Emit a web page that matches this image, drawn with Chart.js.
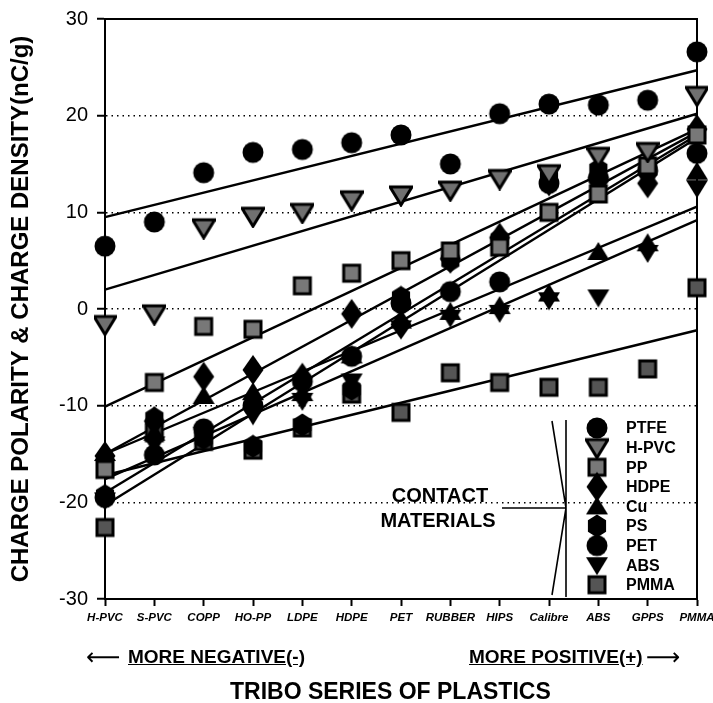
<!DOCTYPE html>
<html>
<head>
<meta charset="utf-8">
<script src="https://cdn.jsdelivr.net/npm/chart.js@4.4.1/dist/chart.umd.min.js"></script>
<style>
html, body { margin: 0; padding: 0; background: #fff; }
#wrap { position: relative; width: 713px; height: 703px; overflow: hidden; }
#tribo { position: absolute; left: 0; top: 0; }
.note { position: absolute; font: bold 19px "Liberation Sans", Arial, sans-serif; white-space: nowrap; color: #000; line-height: 20px; }
.arrow { position: absolute; font: 24px "DejaVu Sans", sans-serif; line-height: 20px; white-space: nowrap; }
</style>
</head>
<body>
<div id="wrap">
  <canvas id="tribo" width="713" height="703"></canvas>
  <div class="arrow" style="left:86px;top:647px">&#10229;</div>
  <div class="note" style="left:128px;top:647px"><u>MORE NEGATIVE(-)</u></div>
  <div class="note" style="left:469px;top:647px"><u>MORE POSITIVE(+)</u></div>
  <div class="arrow" style="left:646px;top:647px">&#10230;</div>
  <div class="note" style="left:230px;top:679px;font-size:23px;line-height:24px">TRIBO SERIES OF PLASTICS</div>
</div>
<script>
// plastics along the x axis, from negative to positive
var plastics = ['H-PVC', 'S-PVC', 'COPP', 'HO-PP', 'LDPE', 'HDPE', 'PET', 'RUBBER', 'HIPS', 'Calibre', 'ABS', 'GPPS', 'PMMA']
var contacts = ['PTFE', 'H-PVC', 'PP', 'HDPE', 'Cu', 'PS', 'PET', 'ABS', 'PMMA']

// charge density (nC/g) of each plastic against the contact material
var ptfe  = [6.5, 9.0, 14.1, 16.2, 16.5, 17.2, 18.0, 15.0, 20.2, 21.2, 21.1, 21.6, 26.6]
var hpvc  = [-1.6, -0.5, 8.4, 9.6, 10.0, 11.3, 11.8, 12.3, 13.5, 14.0, 15.8, 16.3, 22.1]
var pp    = [-16.6, -7.6, -1.8, -2.1, 2.4, 3.7, 5.0, 6.0, 6.4, 10.0, 11.9, 14.8, 18.0]
var hdpe  = [-15.2, -11.6, -7.0, -6.3, -7.1, -0.5, -1.6, 5.2, 7.4, 13.2, 13.6, 13.0, 18.6]
var cu    = [-14.9, -12.8, -9.0, -8.6, -8.7, -4.8, -1.2, -0.3, 0.3, 1.6, 5.9, 6.8, 14.2]
var ps    = [-19.3, -11.3, -13.4, -14.2, -12.0, -8.3, 1.2, 5.0, 7.2, 13.6, 14.4, 14.4, 18.2]
var pet   = [-19.5, -15.1, -12.4, -10.0, -7.5, -4.9, 0.6, 1.8, 2.8, 13.0, 13.5, 14.3, 16.1]
var abs   = [-19.8, -14.0, -13.0, -11.0, -9.5, -7.5, -2.0, -0.9, -0.4, 0.9, 1.2, 5.8, 12.5]
var pmma  = [-22.6, -12.8, -13.7, -14.6, -12.3, -8.8, -10.7, -6.6, -7.6, -8.1, -8.1, -6.2, 2.2]

// fitted lines, value read at H-PVC and at PMMA
var fitStart = [9.5, 2.0, -10.1, -15.0, -15.0, -19.0, -20.3, -17.6, -17.2]
var fitEnd   = [24.7, 20.2, 18.6, 18.3, 10.6, 18.0, 17.7, 9.2, -2.2]

var allSeries = [ptfe, hpvc, pp, hdpe, cu, ps, pet, abs, pmma]

function marker(shape, fill){
    var c = document.createElement('canvas')
    var w = 24, h = shape == 'diamond' ? 32 : 24
    c.width = w; c.height = h
    var g = c.getContext('2d')
    var cx = w / 2, cy = h / 2
    g.fillStyle = fill
    g.strokeStyle = '#000'
    g.lineWidth = 3
    g.beginPath()
    if(shape == 'circle'){
        g.arc(cx, cy, 10.5, 0, Math.PI * 2)
    } else if(shape == 'down'){
        g.moveTo(cx - 11, cy - 8); g.lineTo(cx + 11, cy - 8); g.lineTo(cx, cy + 10)
    } else if(shape == 'up'){
        g.moveTo(cx - 11, cy + 8); g.lineTo(cx + 11, cy + 8); g.lineTo(cx, cy - 10)
    } else if(shape == 'square'){
        g.rect(cx - 8, cy - 8, 16, 16)
    } else if(shape == 'diamond'){
        g.moveTo(cx, cy - 15); g.lineTo(cx + 10.5, cy); g.lineTo(cx, cy + 15); g.lineTo(cx - 10.5, cy)
    } else if(shape == 'hex'){
        for(var k = 0; k < 6; k++){
            var a = -Math.PI / 2 + k * Math.PI / 3
            g.lineTo(cx + 10.5 * Math.cos(a), cy + 11.5 * Math.sin(a))
        }
    }
    g.closePath()
    g.fill()
    if(fill != '#000') g.stroke()
    return c
}

var markers = [
    marker('circle', '#000'),
    marker('down', '#707070'),
    marker('square', '#787878'),
    marker('diamond', '#000'),
    marker('up', '#000'),
    marker('hex', '#000'),
    marker('circle', '#000'),
    marker('down', '#000'),
    marker('square', '#555')
]

var datasets = []
for(var i = 0; i < contacts.length; i++){
    datasets.push({
        label: contacts[i] + ' fit',
        data: [{x: plastics[0], y: fitStart[i]}, {x: plastics[plastics.length - 1], y: fitEnd[i]}],
        borderColor: '#000',
        borderWidth: 2.4,
        pointRadius: 0,
        fill: false,
        order: 2
    })
}
for(var i = 0; i < contacts.length; i++){
    datasets.push({
        label: contacts[i],
        data: allSeries[i],
        showLine: false,
        pointStyle: markers[i],
        pointRadius: 10,
        order: 1
    })
}

// box round the plot, legend block and the bracket
var extras = {
    id: 'extras',
    beforeDatasetsDraw: function(chart){
        var a = chart.chartArea, c = chart.ctx
        c.save()
        c.strokeStyle = '#000'
        c.lineWidth = 2
        c.strokeRect(a.left, a.top, a.right - a.left, a.bottom - a.top)
        c.restore()
    },
    afterDatasetsDraw: function(chart){
        var c = chart.ctx
        c.save()
        c.strokeStyle = '#000'
        c.lineWidth = 1.6
        c.beginPath()
        c.moveTo(566, 420); c.lineTo(566, 597)
        c.moveTo(552, 421); c.lineTo(566, 508); c.lineTo(552, 595)
        c.moveTo(502, 508); c.lineTo(566, 508)
        c.stroke()
        c.fillStyle = '#000'
        c.textBaseline = 'middle'
        c.textAlign = 'center'
        c.font = 'bold 20px "Liberation Sans", Arial, sans-serif'
        c.fillText('CONTACT', 440, 496)
        c.fillText('MATERIALS', 438, 521)
        c.textAlign = 'left'
        c.font = 'bold 16px "Liberation Sans", Arial, sans-serif'
        for(var i = 0; i < contacts.length; i++){
            var y = 428 + i * 19.6
            var m = markers[i]
            c.drawImage(m, 597 - m.width / 2, y - m.height / 2)
            c.fillText(contacts[i], 626, y + 1)
        }
        c.restore()
    }
}

var ctx = document.getElementById('tribo').getContext('2d')
var triboChart = new Chart(ctx, {
    type: 'line',
    data: {labels: plastics, datasets: datasets},
    options: {
        responsive: false,
        animation: false,
        devicePixelRatio: 1,
        layout: {padding: {left: 0, top: 19, right: 16, bottom: 0}},
        plugins: {legend: {display: false}, tooltip: {enabled: false}},
        scales: {
            x: {
                grid: {drawOnChartArea: false, drawTicks: true, tickLength: 7, tickColor: '#000', tickWidth: 2},
                border: {display: true, color: '#000', width: 2},
                ticks: {
                    color: '#000', padding: 5, maxRotation: 0, autoSkip: false,
                    font: {family: '"Liberation Sans", Arial, sans-serif', size: 11.5, weight: 'bold', style: 'italic'}
                },
                afterFit: function(s){ s.height = 104; s.paddingLeft = 0; s.paddingRight = 0 }
            },
            y: {
                min: -30, max: 30,
                grid: {
                    color: function(c){ return (c.tick.value == 30 || c.tick.value == -30) ? 'rgba(0,0,0,0)' : '#000' },
                    lineWidth: 1.5,
                    drawTicks: true, tickLength: 8, tickColor: '#000', tickWidth: 2
                },
                border: {display: true, color: '#000', width: 2, dash: [1.5, 4]},
                ticks: {
                    stepSize: 10, color: '#000', padding: 9,
                    font: {family: '"Liberation Sans", Arial, sans-serif', size: 20}
                },
                title: {
                    display: true,
                    text: 'CHARGE POLARITY & CHARGE DENSITY(nC/g)',
                    color: '#000',
                    font: {family: '"Liberation Sans", Arial, sans-serif', size: 24, weight: 'bold'},
                    padding: {top: 7, bottom: 0}
                },
                afterFit: function(s){ s.width = 105; s.paddingTop = 0; s.paddingBottom = 0 }
            }
        }
    },
    plugins: [extras]
})
</script>
</body>
</html>
